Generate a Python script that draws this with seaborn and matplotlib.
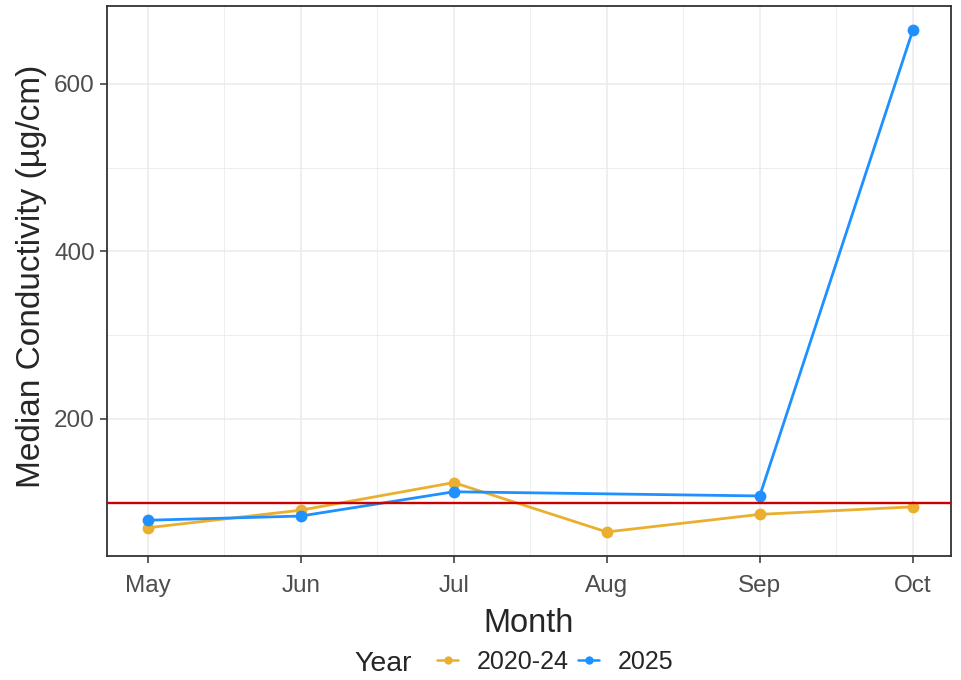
import pandas as pd
import numpy as np
import matplotlib.pyplot as plt
import seaborn as sns
from matplotlib.lines import Line2D

months = ["May", "Jun", "Jul", "Aug", "Sep", "Oct"]
hist_vals = [70, 91, 124, 65, 86, 95]          # 2020-24
cur_months = ["May", "Jun", "Jul", "Sep", "Oct"]
cur_vals = [79, 84, 113, 108, 664]              # 2025
threshold = 100

years = ["2020-24", "2025"]
colors = {"2020-24": "#EBAF2F", "2025": "#1E90FF"}

df = pd.concat([
    pd.DataFrame({"Month": months, "Value": hist_vals, "Year": "2020-24"}),
    pd.DataFrame({"Month": cur_months, "Value": cur_vals, "Year": "2025"}),
])
df["pos"] = df["Month"].map({m: i for i, m in enumerate(months)})

sns.set_style("white")
plt.rcParams["font.family"] = ["Liberation Sans", "DejaVu Sans"]

fig, ax = plt.subplots(figsize=(9.61, 6.8), dpi=100)
fig.subplots_adjust(left=0.111, right=0.9896, top=0.991, bottom=0.182)

# grid like theme_bw
for v in np.arange(100, 700, 100):
    ax.axhline(v, color="#EBEBEB", lw=0.6 if v % 200 else 1.1, zorder=0)
for i in np.arange(0, 6, 0.5):
    ax.axvline(i, color="#EBEBEB", lw=1.1 if i == int(i) else 0.6, zorder=0)

sns.lineplot(data=df, x="pos", y="Value", hue="Year", palette=colors,
             hue_order=years, marker="o", markersize=8.5, markeredgewidth=0,
             linewidth=2, legend=False, ax=ax, zorder=3, sort=True)
ax.axhline(threshold, color="#CD0000", lw=1.7, zorder=4)

ax.set_xlim(-0.268, 5.25)
ax.set_ylim(36, 693)
ax.set_xticks(range(len(months)))
ax.set_xticklabels(months)
ax.set_yticks([200, 400, 600])
ax.tick_params(axis="both", labelsize=17.5, labelcolor="#4D4D4D", length=5,
               width=1.1, color="#333333", direction="out", bottom=True, left=True)
ax.tick_params(axis="x", pad=8.5)
for s in ax.spines.values():
    s.set_color("#333333")
    s.set_linewidth(1.3)
ax.set_xlabel("Month", fontsize=23.5, labelpad=8)
ax.set_ylabel("Median Conductivity (µg/cm)", fontsize=24)
ax.yaxis.set_label_coords(-0.071, 0.509)

handles = [Line2D([0], [0], color=colors[y], marker="o", markersize=6,
                  markeredgewidth=0, lw=1.8) for y in years]
fig.text(0.369, 0.013, "Year", fontsize=20.5, va="baseline", ha="left")
fig.legend(handles, years, loc="lower left", bbox_to_anchor=(0.4315, -0.024),
           ncol=2, frameon=False, fontsize=18, handlelength=0.85,
           handletextpad=0.75, columnspacing=0.35)

plt.savefig("out.png", dpi=100)
